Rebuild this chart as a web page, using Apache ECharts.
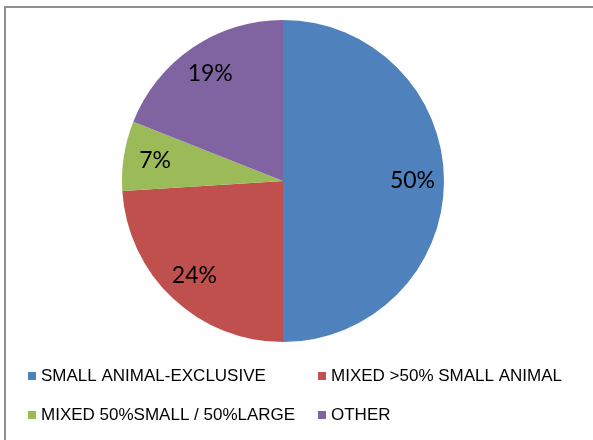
<!DOCTYPE html>
<html>
<head>
<meta charset="utf-8">
<title>Practice type</title>
<script src="https://cdn.jsdelivr.net/npm/echarts@6/dist/echarts.min.js"></script>
<style>
  html, body { margin: 0; height: 100%; background: #fff; }
  #main { width: 593px; height: 440px; }
</style>
</head>
<body>
<div id="main"></div>
<script>
var categories = ['SMALL ANIMAL-EXCLUSIVE', 'MIXED >50% SMALL ANIMAL', 'MIXED 50%SMALL / 50%LARGE', 'OTHER'];
var values = [50, 24, 7, 19];
var colors = ['#4F81BD', '#C0504D', '#9BBB59', '#8064A2'];

var pieData = [];
for (var i = 0; i < categories.length; i++) {
  pieData.push({ name: categories[i], value: values[i], itemStyle: { color: colors[i] } });
}
// transparent ring on top, only used to place the labels further out
var labelData = [];
for (var j = 0; j < categories.length; j++) {
  labelData.push({ name: categories[j], value: values[j], itemStyle: { color: 'rgba(0,0,0,0)' } });
}

var legendText = { fontFamily: 'Liberation Sans, Arial, sans-serif', fontSize: 17, color: '#000', lineHeight: 18 };

var myChart = echarts.init(document.getElementById('main'), null, { renderer: 'canvas' });
myChart.setOption({
  animation: false,
  color: colors,
  graphic: [{
    type: 'rect',
    shape: { x: 5, y: 7, width: 700, height: 600 },
    style: { fill: 'none', stroke: '#909090', lineWidth: 2 },
    z: -1
  }],
  legend: [{
    orient: 'vertical',
    left: 28, top: 367,
    padding: 0,
    itemWidth: 8, itemHeight: 8, itemGap: 21,
    icon: 'rect',
    data: [categories[0], categories[2]],
    textStyle: legendText
  }, {
    orient: 'vertical',
    left: 318, top: 367,
    padding: 0,
    itemWidth: 8, itemHeight: 8, itemGap: 21,
    icon: 'rect',
    data: [categories[1], categories[3]],
    textStyle: legendText
  }],
  series: [{
    type: 'pie',
    center: [283, 181],
    radius: [0, 161],
    startAngle: 90,
    clockwise: true,
    label: { show: false },
    labelLine: { show: false },
    emphasis: { disabled: true },
    data: pieData
  }, {
    type: 'pie',
    center: [283, 181],
    radius: [92, 161],
    startAngle: 90,
    clockwise: true,
    silent: true,
    label: {
      show: true,
      position: 'inside',
      formatter: '{c}%',
      fontFamily: 'Lato, Open Sans, sans-serif',
      fontSize: 23,
      color: '#000'
    },
    labelLine: { show: false },
    data: labelData
  }]
});
</script>
</body>
</html>
